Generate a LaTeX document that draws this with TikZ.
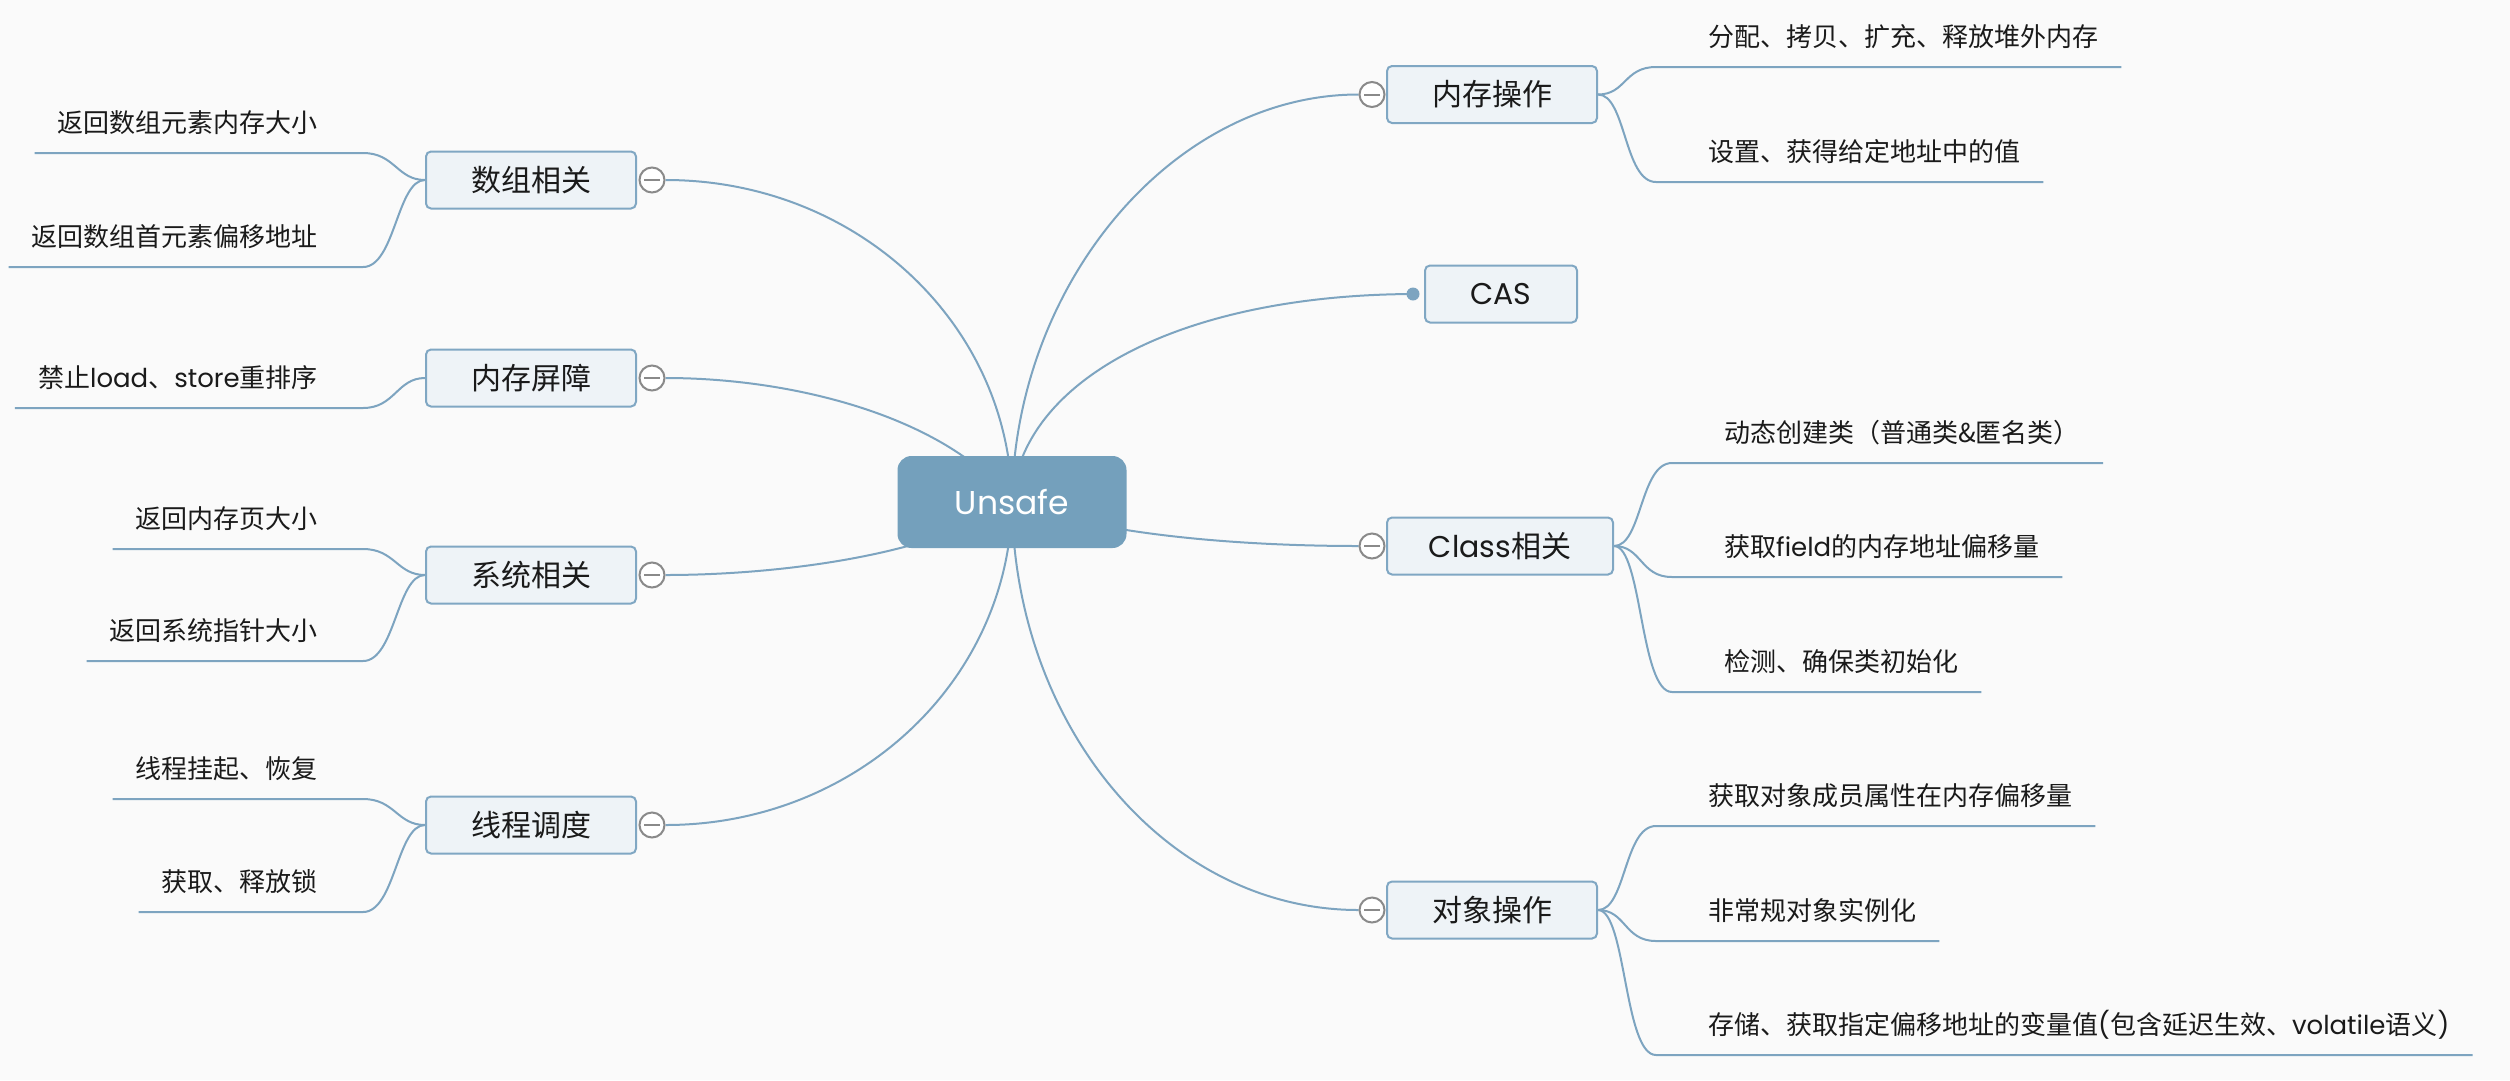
\documentclass[tikz,border=0pt]{standalone}
\usepackage{fontspec}
\setmainfont{Noto Sans CJK SC}
\newfontfamily\latf{Poppins}
\newcommand\lt[1]{{\latf #1}}
\usetikzlibrary{calc}
\definecolor{bgc}{HTML}{FAFAFA}
\definecolor{lc}{HTML}{7DA4C0}
\definecolor{bc}{HTML}{80A7C3}
\definecolor{bf}{HTML}{EEF3F7}
\definecolor{rc}{HTML}{74A0BC}
\definecolor{gc}{HTML}{8A8A8A}
\definecolor{tc}{HTML}{1A1A1A}
\pgfdeclarelayer{background}
\pgfsetlayers{background,main}
\begin{document}
\begin{tikzpicture}[x=1pt,y=-1pt,
  conn/.style={draw=lc, line width=2pt},
  root/.style={fill=rc, rounded corners=14pt, minimum width=229pt, minimum height=92pt, inner sep=0pt, text=white, font=\latf\fontsize{33}{38}\selectfont},
  branch/.style={draw=bc, fill=bf, line width=2pt, rounded corners=5pt, minimum width=210pt, minimum height=57pt, inner sep=0pt, text=tc, font=\fontsize{30}{34}\selectfont},
  leaf/.style={inner sep=0pt, text=tc, font=\fontsize{26}{30}\selectfont},
  fold/.style={circle, draw=gc, fill=white, line width=2pt, minimum size=25pt, inner sep=0pt,
    path picture={\draw[gc, line width=2pt] ([xshift=-8pt]path picture bounding box.center) -- ([xshift=8pt]path picture bounding box.center);}},
  dotn/.style={circle, fill=lc, minimum size=13pt, inner sep=0pt},
]
\useasboundingbox (0,0) rectangle (2510,1080);

% root
\node[root] (root) at (1012,502) {Unsafe};

% right branches
\node[branch, anchor=west] (mem) at (1386,94.5) {内存操作};
\node[fold] (fm) at (1372,94.5) {};
\node[branch, anchor=west, minimum width=152pt] (cas) at (1424,294) {\lt{CAS}};
\node[dotn] (cd) at (1413,294) {};
\node[branch, anchor=west, minimum width=226pt] (cls) at (1386,546) {\lt{Class}相关};
\node[fold] (fc) at (1372,546) {};
\node[branch, anchor=west] (obj) at (1386,910) {对象操作};
\node[fold] (fo) at (1372,910) {};

% left branches
\node[branch, anchor=east] (arr) at (637,180) {数组相关};
\node[fold] (fa) at (652,180) {};
\node[branch, anchor=east] (bar) at (637,378) {内存屏障};
\node[fold] (fb) at (652,378) {};
\node[branch, anchor=east] (sys) at (637,575) {系统相关};
\node[fold] (fs) at (652,575) {};
\node[branch, anchor=east] (thr) at (637,825) {线程调度};
\node[fold] (ft) at (652,825) {};

% right leaves
\node[leaf, anchor=base west] (m1) at (1708,46) {分配、拷贝、扩充、释放堆外内存};
\node[leaf, anchor=base west] (m2) at (1708,161) {设置、获得给定地址中的值};
\node[leaf, anchor=base west] (k1) at (1724,442) {动态创建类（普通类\&匿名类）};
\node[leaf, anchor=base west] (k2) at (1724,556) {获取\lt{field}的内存地址偏移量};
\node[leaf, anchor=base west] (k3) at (1724,671) {检测、确保类初始化};
\node[leaf, anchor=base west] (o1) at (1708,805) {获取对象成员属性在内存偏移量};
\node[leaf, anchor=base west] (o2) at (1708,920) {非常规对象实例化};
\node[leaf, anchor=base west] (o3) at (1708,1034) {存储、获取指定偏移地址的变量值\lt{(}包含延迟生效、\lt{volatile}语义\lt{)}};

% left leaves
\node[leaf, anchor=base east] (a1) at (318,132) {返回数组元素内存大小};
\node[leaf, anchor=base east] (a2) at (318,246) {返回数组首元素偏移地址};
\node[leaf, anchor=base east] (b1) at (318,387) {禁止\lt{load}、\lt{store}重排序};
\node[leaf, anchor=base east] (s1) at (318,528) {返回内存页大小};
\node[leaf, anchor=base east] (s2) at (318,640) {返回系统指针大小};
\node[leaf, anchor=base east] (t1) at (318,778) {线程挂起、恢复};
\node[leaf, anchor=base east] (t2) at (318,891) {获取、释放锁};

\begin{pgfonlayer}{background}
\fill[bgc] (0,0) rectangle (2510,1080);
% root connectors
\draw[conn] (root.center) .. controls (1014,285) and (1172,94.5) .. (fm.west);
\draw[conn] (root.center) .. controls (1020,380) and (1180,295) .. (cd.center);
\draw[conn] (root.center) .. controls (1100,535) and (1240,546) .. (fc.west);
\draw[conn] (root.center) .. controls (1014,727) and (1167,910) .. (fo.west);
\draw[conn] (root.center) .. controls (1010,324) and (857,180) .. (fa.east);
\draw[conn] (root.center) .. controls (950,420) and (800,378) .. (fb.east);
\draw[conn] (root.center) .. controls (935,555) and (780,575) .. (fs.east);
\draw[conn] (root.center) .. controls (1010,680) and (857,825) .. (ft.east);
% right leaf connectors
\foreach \b/\l in {mem/m1, mem/m2, cls/k1, cls/k2, cls/k3, obj/o1, obj/o2, obj/o3}{
  \draw[conn] (\b.east) .. controls +(28,0) and +(-32,0) .. ([xshift=-52pt,yshift=-21pt]\l.base west) -- ([xshift=23pt,yshift=-21pt]\l.base east);
}
% left leaf connectors
\foreach \b/\l in {arr/a1, arr/a2, bar/b1, sys/s1, sys/s2, thr/t1, thr/t2}{
  \draw[conn] (\b.west) .. controls +(-28,0) and +(32,0) .. ([xshift=45pt,yshift=-21pt]\l.base east) -- ([xshift=-23pt,yshift=-21pt]\l.base west);
}
\end{pgfonlayer}
\end{tikzpicture}
\end{document}
